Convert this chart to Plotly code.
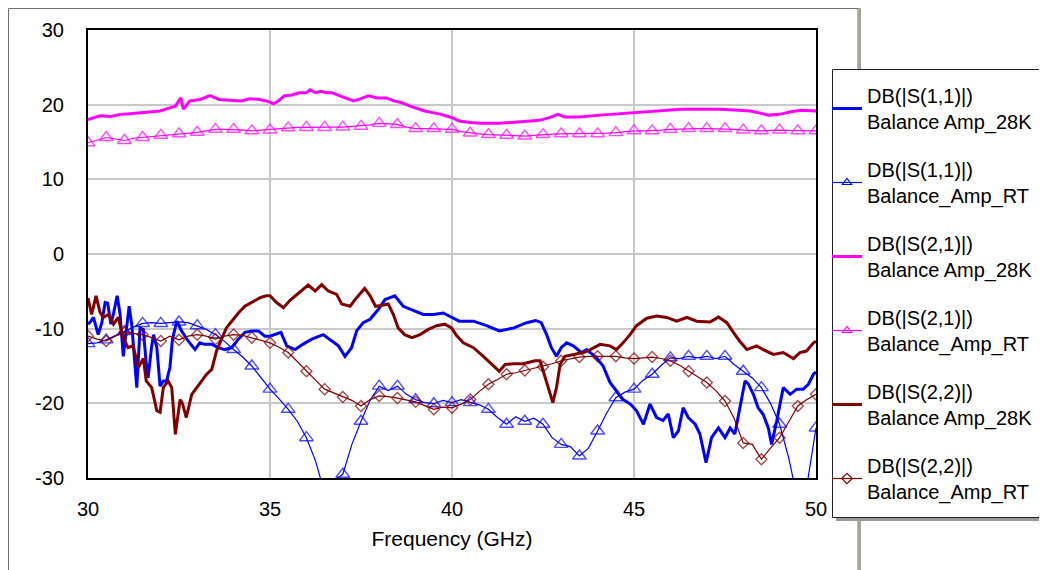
import plotly.graph_objects as go

# ---------------- data ----------------
f_rt = [30 + 0.25 * i for i in range(81)]

s11_rt = [-12.0, -11.9, -11.5, -10.9, -10.4, -9.8, -9.3, -9.2, -9.3, -9.2,
          -9.1, -9.2, -9.6, -10.1, -10.8, -11.7, -12.8, -13.8, -15.0, -16.5,
          -18.1, -19.4, -20.8, -22.4, -24.6, -27.7, -32.0, -30.4, -29.5, -25.5,
          -22.4, -19.6, -17.7, -18.3, -17.7, -18.8, -19.5, -19.9, -20.05, -19.6,
          -19.9, -19.5, -19.9, -20.2, -20.8, -21.9, -22.8, -21.8, -22.4, -22.0,
          -22.8, -24.6, -25.5, -25.8, -27.05, -26.0, -23.7, -21.3, -19.25, -18.5,
          -18.1, -16.9, -16.1, -14.9, -13.9, -14.0, -13.7, -13.9, -13.7, -14.0,
          -13.7, -14.8, -15.7, -16.6, -17.9, -20.0, -22.8, -27.3, -33.0, -31.0,
          -23.3]

s21_rt = [14.9, 15.2, 15.6, 15.4, 15.2, 15.5, 15.6, 15.8, 15.9, 16.0,
          16.1, 16.2, 16.3, 16.5, 16.7, 16.7, 16.7, 16.6, 16.5, 16.6,
          16.6, 16.8, 16.9, 16.95, 16.95, 17.0, 16.95, 17.0, 17.0, 17.1,
          17.1, 17.3, 17.5, 17.4, 17.35, 17.0, 16.8, 16.8, 16.8, 16.8,
          16.7, 16.4, 16.2, 16.1, 16.0, 15.95, 15.9, 15.85, 15.8, 15.9,
          16.0, 16.05, 16.1, 16.1, 16.1, 16.1, 16.1, 16.2, 16.25, 16.4,
          16.5, 16.5, 16.5, 16.6, 16.7, 16.75, 16.8, 16.8, 16.8, 16.8,
          16.8, 16.7, 16.6, 16.55, 16.5, 16.55, 16.6, 16.55, 16.5, 16.5,
          16.5]

s22_rt = [-11.0, -11.4, -11.65, -11.0, -10.5, -10.6, -10.8, -11.2, -11.65, -11.0,
          -11.5, -11.0, -10.8, -11.0, -11.4, -11.0, -10.8, -10.9, -11.2, -11.5,
          -11.9, -12.5, -13.2, -14.4, -15.7, -16.9, -18.1, -18.6, -19.15, -19.6,
          -20.35, -19.5, -19.0, -19.1, -19.3, -19.6, -19.8, -20.3, -20.8, -20.5,
          -20.6, -20.1, -19.5, -18.4, -17.45, -16.8, -16.1, -15.9, -15.6, -15.3,
          -15.1, -14.7, -14.3, -14.0, -13.8, -13.7, -13.7, -13.6, -13.7, -13.9,
          -14.0, -13.9, -13.8, -14.0, -14.3, -14.9, -15.7, -16.4, -17.2, -18.3,
          -19.7, -22.0, -25.3, -25.5, -27.5, -26.0, -24.6, -22.5, -20.35, -19.5,
          -18.8]

f_s11_28k = [30.0, 30.08, 30.15, 30.28, 30.38, 30.47, 30.54, 30.63, 30.7, 30.8,
             30.88, 30.97, 31.06, 31.13, 31.2, 31.34, 31.43, 31.52, 31.6, 31.65,
             31.75, 31.8, 31.89, 31.98, 32.07, 32.16, 32.25, 32.32, 32.44, 32.57,
             32.75, 32.94, 33.07, 33.2, 33.4, 33.58, 33.76, 33.95, 34.13, 34.31,
             34.5, 34.68, 34.86, 35.0, 35.3, 35.46, 35.69, 35.9, 36.15, 36.46,
             36.7, 36.88, 37.06, 37.24, 37.38, 37.56, 37.75, 37.98, 38.16, 38.43,
             38.66, 38.94, 39.21, 39.49, 39.76, 40.0, 40.2, 40.59, 40.95, 41.3,
             41.7, 42.05, 42.3, 42.45, 42.6, 42.73, 42.87, 43.0, 43.15, 43.33,
             43.56, 43.7, 43.97, 44.15, 44.34, 44.52, 44.7, 44.9, 45.07, 45.26,
             45.44, 45.62, 45.8, 45.94, 46.08, 46.22, 46.35, 46.49, 46.68, 46.81,
             46.98, 47.13, 47.32, 47.5, 47.64, 47.77, 47.91, 48.05, 48.14, 48.28,
             48.41, 48.55, 48.69, 48.78, 48.92, 49.1, 49.29, 49.47, 49.65, 49.79,
             49.93, 50.0]
s11_28k = [-9.4, -9.0, -8.5, -10.8, -9.2, -6.5, -6.6, -9.4, -8.0, -5.6,
           -8.0, -13.7, -9.9, -7.0, -9.4, -17.9, -9.9, -10.1, -14.7, -16.6,
           -12.3, -10.8, -12.5, -17.7, -17.0, -17.0, -15.2, -11.4, -9.0, -10.3,
           -11.65, -12.8, -11.9, -12.1, -12.1, -12.55, -12.8, -12.55, -11.4, -10.5,
           -10.3, -10.3, -11.0, -11.0, -10.5, -12.3, -12.8, -12.1, -11.4, -10.8,
           -11.65, -12.3, -13.7, -12.55, -10.3, -9.2, -8.75, -7.4, -6.1, -5.6,
           -7.0, -7.6, -8.1, -8.1, -7.9, -8.5, -9.0, -9.0, -9.6, -10.3,
           -9.9, -9.2, -8.9, -9.2, -10.8, -12.55, -13.7, -12.55, -11.9, -12.3,
           -13.2, -12.8, -13.9, -15.0, -17.2, -18.35, -19.5, -20.1, -21.0, -22.8,
           -20.1, -21.9, -22.3, -21.4, -24.6, -23.7, -20.6, -21.9, -22.8, -24.1,
           -27.95, -24.6, -23.3, -24.6, -23.3, -24.1, -20.6, -17.0, -17.4, -18.8,
           -20.6, -21.5, -23.3, -25.5, -22.4, -17.9, -18.8, -18.1, -18.1, -17.45,
           -16.1, -15.8]

f_s21_28k = [30.0, 30.15, 30.33, 30.6, 30.88, 31.15, 31.43, 31.7, 31.98, 32.2,
             32.4, 32.55, 32.62, 32.8, 33.08, 33.35, 33.6, 33.9, 34.2, 34.45,
             34.7, 34.9, 35.1, 35.25, 35.4, 35.6, 35.8, 36.0, 36.1, 36.25,
             36.4, 36.55, 36.7, 36.9, 37.1, 37.3, 37.5, 37.7, 37.95, 38.2,
             38.4, 38.6, 38.85, 39.05, 39.25, 39.5, 39.7, 40.0, 40.2, 40.5,
             40.8, 41.3, 41.87, 42.4, 42.7, 42.9, 43.1, 43.5, 44.07, 44.6,
             45.0, 45.7, 46.3, 46.8, 47.4, 48.2, 48.5, 48.7, 49.0, 49.3,
             49.6, 50.0]
s21_28k = [18.0, 18.2, 18.5, 18.4, 18.7, 18.8, 18.9, 19.0, 19.15, 19.5,
           19.8, 20.9, 19.4, 20.5, 20.7, 21.2, 20.7, 20.6, 20.5, 20.8,
           20.7, 20.5, 20.1, 20.6, 21.2, 21.3, 21.6, 21.6, 22.0, 21.6,
           21.8, 21.6, 21.6, 21.2, 20.9, 20.5, 20.8, 21.2, 20.9, 20.9,
           20.5, 20.3, 19.8, 19.5, 19.15, 18.9, 18.7, 18.25, 17.8, 17.6,
           17.5, 17.5, 17.7, 17.9, 18.3, 18.7, 18.35, 18.35, 18.6, 18.8,
           18.9, 19.15, 19.4, 19.4, 19.4, 19.15, 18.8, 18.6, 18.7, 19.05,
           19.25, 19.15]

f_s22_28k = [30.0, 30.1, 30.22, 30.33, 30.42, 30.56, 30.7, 30.83, 30.97, 31.1,
             31.24, 31.38, 31.52, 31.6, 31.75, 31.89, 31.98, 32.07, 32.2, 32.3,
             32.4, 32.53, 32.6, 32.7, 32.85, 32.99, 33.12, 33.26, 33.4, 33.53,
             33.67, 33.8, 33.95, 34.13, 34.31, 34.5, 34.73, 34.9, 35.0, 35.18,
             35.37, 35.55, 35.78, 36.05, 36.24, 36.42, 36.6, 36.83, 36.97, 37.2,
             37.38, 37.6, 37.75, 37.9, 38.06, 38.25, 38.39, 38.52, 38.7, 38.9,
             39.12, 39.35, 39.58, 39.8, 39.99, 40.04, 40.12, 40.31, 40.59, 40.86,
             41.13, 41.3, 41.46, 41.7, 41.96, 42.28, 42.42, 42.51, 42.65, 42.77,
             42.87, 42.97, 43.1, 43.33, 43.61, 43.8, 44.07, 44.34, 44.52, 44.7,
             44.89, 45.07, 45.35, 45.62, 45.9, 46.17, 46.45, 46.72, 47.09, 47.32,
             47.55, 47.73, 47.9, 48.1, 48.37, 48.55, 48.83, 49.1, 49.38, 49.56,
             49.74, 49.93, 50.0]
s22_28k = [-5.9, -8.1, -5.6, -7.8, -8.5, -8.1, -9.4, -8.5, -11.2, -12.55,
           -12.3, -15.2, -14.0, -17.0, -17.9, -21.0, -21.2, -17.9, -17.0, -17.9,
           -24.15, -19.5, -20.1, -21.9, -18.8, -17.9, -17.0, -16.1, -15.45, -13.0,
           -11.4, -9.9, -9.0, -7.9, -7.0, -6.5, -5.85, -5.6, -5.6, -6.5,
           -7.2, -6.2, -5.2, -4.15, -4.95, -4.1, -4.95, -5.4, -6.7, -7.0,
           -5.85, -4.6, -5.6, -7.0, -6.9, -6.7, -8.1, -9.9, -10.8, -11.2,
           -10.8, -10.1, -9.6, -9.4, -9.9, -10.3, -10.9, -11.9, -12.55, -13.7,
           -15.0, -15.7, -14.8, -14.7, -14.7, -14.3, -14.3, -15.7, -17.9, -19.9,
           -17.9, -14.8, -13.7, -13.45, -13.2, -12.8, -12.1, -12.3, -12.8, -11.9,
           -10.8, -9.6, -8.6, -8.3, -8.5, -9.0, -8.5, -9.0, -9.1, -8.45,
           -9.2, -10.5, -11.65, -12.8, -12.3, -12.8, -13.45, -13.2, -14.0, -13.2,
           -13.0, -11.9, -11.7]

legend_names = [
    "DB(|S(1,1)|)<br>Balance Amp_28K",
    "DB(|S(1,1)|)<br>Balance_Amp_RT",
    "DB(|S(2,1)|)<br>Balance Amp_28K",
    "DB(|S(2,1)|)<br>Balance_Amp_RT",
    "DB(|S(2,2)|)<br>Balance Amp_28K",
    "DB(|S(2,2)|)<br>Balance_Amp_RT",
]
x_ticks = [30, 35, 40, 45, 50]
y_ticks = [-30, -20, -10, 0, 10, 20, 30]

# ---------------- styling ----------------
BLUE = "#0000ff"
MAG = "#ff00ff"
RED = "#800000"
FONT = "Liberation Sans, Arial, sans-serif"

# page offset (body margin of the html page)
OFF = 8
W, H = 1047 - OFF, 570 - OFF
# plot area in page pixels
PL, PR, PT, PB = 88, 816, 30, 478
L, R, T, B = PL - OFF, PR - OFF, PT - OFF, PB - OFF
pw, ph = R - L, B - T


def px(xp):
    """page pixel x -> paper coordinate"""
    return (xp - OFF - L) / pw


def py(yp):
    """page pixel y -> paper coordinate"""
    return (B - (yp - OFF)) / ph


fig = go.Figure()


def rt_trace(y, color, symbol, size, group, name):
    sizes = [size if i % 2 == 0 else 0 for i in range(len(f_rt))]
    fig.add_trace(go.Scatter(x=f_rt, y=y, mode="lines+markers", showlegend=False,
                             line=dict(color=color, width=1.2), legendgroup=group,
                             marker=dict(symbol=symbol, size=sizes, color=color,
                                         line=dict(width=1.4, color=color))))
    # legend entry (no plotted points)
    fig.add_trace(go.Scatter(x=[None], y=[None], mode="lines+markers", name=name,
                             legendgroup=group,
                             line=dict(color=color, width=1.2),
                             marker=dict(symbol=symbol, size=8, color=color,
                                         line=dict(width=1.2, color=color))))


fig.add_trace(go.Scatter(x=f_s11_28k, y=s11_28k, mode="lines", name=legend_names[0],
                         line=dict(color=BLUE, width=3), legendgroup="a"))
rt_trace(s11_rt, BLUE, "triangle-up-open", 12, "b", legend_names[1])
fig.add_trace(go.Scatter(x=f_s21_28k, y=s21_28k, mode="lines", name=legend_names[2],
                         line=dict(color=MAG, width=3), legendgroup="c"))
rt_trace(s21_rt, MAG, "triangle-up-open", 12, "d", legend_names[3])
fig.add_trace(go.Scatter(x=f_s22_28k, y=s22_28k, mode="lines", name=legend_names[4],
                         line=dict(color=RED, width=3), legendgroup="e"))
rt_trace(s22_rt, RED, "diamond-open", 8.5, "f", legend_names[5])

shapes = [
    # outer frame
    dict(type="rect", xref="paper", yref="paper", layer="below",
         x0=px(8.5), x1=px(858), y0=py(620), y1=py(8.5),
         line=dict(color="#707070", width=1), fillcolor="white"),
    dict(type="line", xref="paper", yref="paper", layer="below",
         x0=px(859.5), x1=px(859.5), y0=py(620), y1=py(8),
         line=dict(color="#a8a49c", width=3)),
    # legend shadow and box
    dict(type="rect", xref="paper", yref="paper", layer="above",
         x0=px(836), x1=px(1070), y0=py(521), y1=py(73),
         line=dict(width=0), fillcolor="#9a9a9a"),
    dict(type="rect", xref="paper", yref="paper", layer="above",
         x0=px(832.5), x1=px(1070), y0=py(517.5), y1=py(69.5),
         line=dict(color="#222222", width=1), fillcolor="white"),
]

fig.update_layout(
    width=W, height=H,
    margin=dict(l=L, r=W - R, t=T, b=H - B, autoexpand=False),
    paper_bgcolor="white", plot_bgcolor="white",
    font=dict(family=FONT, size=20, color="black"),
    showlegend=True,
    legend=dict(x=px(827), y=py(76), xanchor="left", yanchor="top",
                bgcolor="rgba(0,0,0,0)", borderwidth=0,
                font=dict(family=FONT, size=20, color="black"),
                tracegroupgap=19, itemwidth=30, traceorder="grouped"),
    shapes=shapes,
    xaxis=dict(range=[30, 50], tickvals=x_ticks, ticktext=[str(v) for v in x_ticks],
               showgrid=True, gridcolor="#c8c8c8", gridwidth=1.5,
               showline=True, linecolor="black", linewidth=2, mirror=True,
               zeroline=False, ticks="", ticklabelstandoff=12,
               tickfont=dict(family=FONT, size=20, color="black"),
               title=dict(text="Frequency (GHz)", standoff=12,
                          font=dict(family=FONT, size=21, color="black"))),
    yaxis=dict(range=[-30, 30], tickvals=y_ticks, ticktext=[str(v) for v in y_ticks],
               showgrid=True, gridcolor="#c8c8c8", gridwidth=1.5,
               showline=True, linecolor="black", linewidth=2, mirror=True,
               zeroline=False, ticks="", ticklabelstandoff=18,
               tickfont=dict(family=FONT, size=20, color="black")),
)

fig.write_html("out.html")
